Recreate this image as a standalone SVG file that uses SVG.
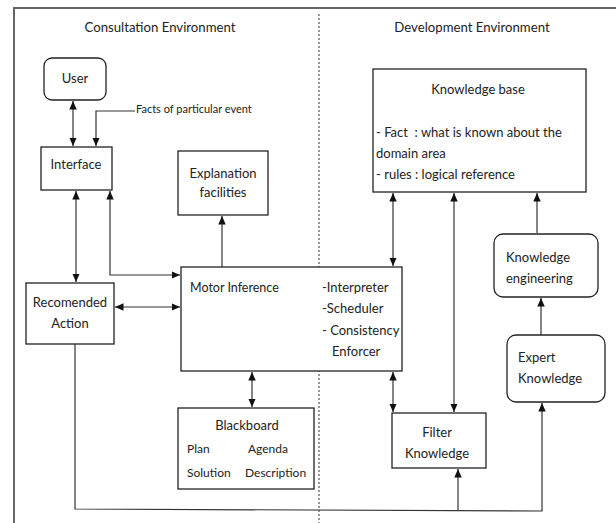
<svg xmlns="http://www.w3.org/2000/svg" width="616" height="523" viewBox="0 0 616 523">
<style>
  text { font-family: Lato, "Liberation Sans", sans-serif; font-size: 13px; fill: #222; }
  .title { font-size: 13.2px; text-anchor: middle; }
  .mid { text-anchor: middle; }
  .sm { font-size: 12px; }
  .box { fill: #fff; stroke: #222; stroke-width: 1.3; }
  .conn { fill: none; stroke: #333; stroke-width: 1.2; }
  .frame { fill: none; stroke: #666; stroke-width: 2; }
  .divider { fill: none; stroke: #333; stroke-width: 1; stroke-dasharray: 2 2; }
</style>
<defs>
  <marker id="arrow" markerUnits="userSpaceOnUse" markerWidth="9" markerHeight="8" refX="8.5" refY="3.75" orient="auto-start-reverse">
    <path d="M0,0 L8.5,3.75 L0,7.5 z" fill="#111"/>
  </marker>
</defs>
<rect x="0" y="0" width="616" height="523" fill="#fff"/>
<g id="frame">
  <path class="frame" d="M14,523 L14,8 L616,8"/>
  <path class="divider" d="M319,14 L319,523"/>
  <text class="title" x="160" y="32">Consultation Environment</text>
  <text class="title" x="472" y="32">Development Environment</text>
</g>
<g id="connectors">
  <path class="conn" d="M73,101 L73,146" marker-start="url(#arrow)" marker-end="url(#arrow)"/>
  <path class="conn" d="M135,111 L96,111 L96,146" marker-end="url(#arrow)"/>
  <path class="conn" d="M76,191 L76,282" marker-start="url(#arrow)" marker-end="url(#arrow)"/>
  <path class="conn" d="M110,191 L110,275 L180,275" marker-start="url(#arrow)" marker-end="url(#arrow)"/>
  <path class="conn" d="M115,307 L180,307" marker-start="url(#arrow)" marker-end="url(#arrow)"/>
  <path class="conn" d="M222,267 L222,216" marker-end="url(#arrow)"/>
  <path class="conn" d="M252,372 L252,407" marker-start="url(#arrow)" marker-end="url(#arrow)"/>
  <path class="conn" d="M393,193 L393,266" marker-start="url(#arrow)" marker-end="url(#arrow)"/>
  <path class="conn" d="M393,372 L393,412" marker-start="url(#arrow)" marker-end="url(#arrow)"/>
  <path class="conn" d="M454,193 L454,412" marker-start="url(#arrow)" marker-end="url(#arrow)"/>
  <path class="conn" d="M537,233 L537,193" marker-end="url(#arrow)"/>
  <path class="conn" d="M541,335 L541,298" marker-end="url(#arrow)"/>
  <path class="conn" d="M75,344 L75,509 L542,511 L542,403" marker-end="url(#arrow)"/>
  <path class="conn" d="M458,510 L458,469" marker-end="url(#arrow)"/>
  <text x="136" y="113" style="font-size:11px">Facts of particular event</text>
</g>
<g id="user">
  <rect class="box" x="44" y="58" width="62" height="42" rx="8"/>
  <text class="mid" x="75" y="83">User</text>
</g>
<g id="interface">
  <rect class="box" x="41" y="147" width="71" height="43"/>
  <text class="mid" x="76" y="169">Interface</text>
</g>
<g id="explanation">
  <rect class="box" x="178" y="151" width="90" height="64"/>
  <text class="mid" x="223" y="178">Explanation</text>
  <text class="mid" x="223" y="197">facilities</text>
</g>
<g id="recommended">
  <rect class="box" x="26" y="283" width="88" height="61"/>
  <text class="mid" x="70" y="307">Recomended</text>
  <text class="mid" x="70" y="328">Action</text>
</g>
<g id="motor">
  <rect class="box" x="181" y="267" width="221" height="104"/>
  <text x="190" y="292" style="font-size:12.5px">Motor Inference</text>
  <text x="322" y="292">-Interpreter</text>
  <text x="322" y="313">-Scheduler</text>
  <text x="322" y="335">- Consistency</text>
  <text x="332" y="356">Enforcer</text>
</g>
<g id="blackboard">
  <rect class="box" x="178" y="408" width="136" height="81"/>
  <text class="mid" x="247" y="430">Blackboard</text>
  <text class="sm" x="187" y="453">Plan</text>
  <text class="sm" x="248" y="453">Agenda</text>
  <text class="sm" x="187" y="477">Solution</text>
  <text class="sm" x="245" y="477">Description</text>
</g>
<g id="knowledge-base">
  <rect class="box" x="373" y="69" width="213" height="123"/>
  <text class="mid" x="478" y="94">Knowledge base</text>
  <text x="376" y="137" xml:space="preserve" style="white-space:pre">- Fact  : what is known about the</text>
  <text x="376" y="158">domain area</text>
  <text x="376" y="179">- rules : logical reference</text>
</g>
<g id="knowledge-engineering">
  <rect class="box" x="494" y="234" width="104" height="63" rx="9"/>
  <text x="506" y="262">Knowledge</text>
  <text x="506" y="283">engineering</text>
</g>
<g id="expert-knowledge">
  <rect class="box" x="507" y="335" width="98" height="67" rx="9"/>
  <text x="518" y="362">Expert</text>
  <text x="518" y="383">Knowledge</text>
</g>
<g id="filter-knowledge">
  <rect class="box" x="392" y="413" width="94" height="55"/>
  <text class="mid" x="437" y="437">Filter</text>
  <text class="mid" x="437" y="458">Knowledge</text>
</g>
</svg>
